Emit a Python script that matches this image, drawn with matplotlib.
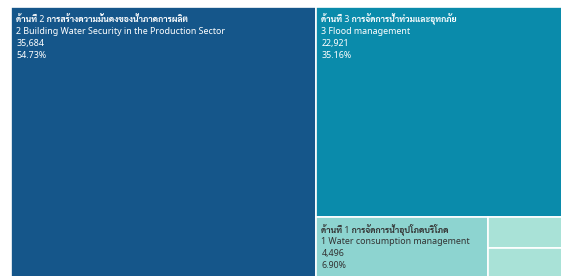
import matplotlib
matplotlib.use('Agg')
import matplotlib.pyplot as plt
from matplotlib.patches import Rectangle

# values read from the treemap labels (two small unlabeled cells estimated)
thai_names = ['ด้านที่ 2 การสร้างความมั่นคงของน้ำภาคการผลิต',
              'ด้านที่ 3 การจัดการน้ำท่วมและอุทกภัย',
              'ด้านที่ 1 การจัดการน้ำอุปโภคบริโภค',
              '', '']
eng_names = ['2 Building Water Security in the Production Sector',
             '3 Flood management',
             '1 Water consumption management',
             '', '']
values = [35684, 22921, 4496, 1085, 1010]
colors = ['#15568a', '#0a8bab', '#8dd4d0', '#a9e2d7', '#a9e2d7']
text_colors = ['white', 'white', '#333333', '#333333', '#333333']

fonts = ['Noto Sans', 'Noto Sans Thai Looped']
thai_fonts = ['Noto Sans', 'Sarabun']

fig = plt.figure(figsize=(5.61, 2.76), dpi=100)
ax = fig.add_axes([0, 0, 1, 1])
ax.set_xlim(0, 561)
ax.set_ylim(276, 0)
ax.axis('off')

# treemap box in pixels (runs past the right edge of the picture)
X0, Y0, W, H = 11, 7, 557, 270
total = sum(values)

rects = []
w0 = W * values[0] / total
rects.append((X0, Y0, w0, H))
rest = total - values[0]
rx, rw = X0 + w0, W - w0
h1 = H * values[1] / rest
rects.append((rx, Y0, rw, h1))
by, bh = Y0 + h1, H - h1
bottom = sum(values[2:])
w2 = rw * values[2] / bottom
rects.append((rx, by, w2, bh))
small = sum(values[3:])
h3 = bh * values[3] / small
rects.append((rx + w2, by, rw - w2, h3))
rects.append((rx + w2, by + h3, rw - w2, bh - h3))

for i, (x, y, w, h) in enumerate(rects):
    ax.add_patch(Rectangle((x, y), w, h, facecolor=colors[i],
                           edgecolor='white', linewidth=1.2))
    if not thai_names[i]:
        continue
    ax.text(x + 5.5, y + 12, thai_names[i], color=text_colors[i],
            fontsize=6.2, va='center', ha='left', family=thai_fonts,
            fontweight='bold')
    lines = [eng_names[i], f'{values[i]:,}', f'{values[i] / total * 100:.2f}%']
    for j, s in enumerate(lines):
        ax.text(x + 5.5, y + 24.5 + j * 12, s, color=text_colors[i],
                fontsize=6.4, va='center', ha='left', family=fonts)

fig.savefig('out.png', dpi=100)
